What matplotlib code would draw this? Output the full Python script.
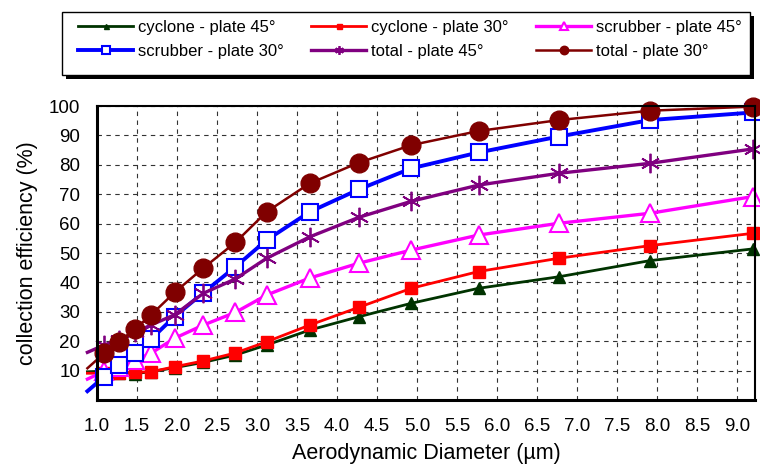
import matplotlib
matplotlib.use('Agg')
import matplotlib.pyplot as plt
from matplotlib.patches import Rectangle

plt.rcParams['font.family'] = ['Liberation Sans', 'DejaVu Sans']

# aerodynamic diameter (um); first value is the line lead-in before the first marker
diam = [0.88, 1.09, 1.28, 1.475, 1.675, 1.97, 2.33, 2.73, 3.12, 3.66, 4.27, 4.93, 5.77, 6.77, 7.91, 9.2]

cyclone_45 = [9.6, 9.8, 9.3, 9.0, 9.6, 11.0, 12.8, 15.3, 18.7, 23.8, 28.3, 32.9, 38.0, 41.9, 47.4, 51.4]
cyclone_30 = [9.1, 9.1, 9.2, 9.4, 9.6, 11.3, 13.3, 16.0, 19.8, 25.5, 31.5, 38.0, 43.7, 48.2, 52.5, 56.7]
scrubber_45 = [7.1, 9.8, 11.3, 13.5, 15.9, 21.0, 25.5, 29.8, 35.7, 41.5, 46.5, 51.0, 56.1, 60.1, 63.5, 69.2]
scrubber_30 = [3.0, 7.9, 11.9, 15.9, 20.7, 28.4, 36.5, 45.3, 54.4, 64.0, 71.6, 78.8, 84.2, 89.6, 95.2, 97.8]
total_45 = [16.2, 18.7, 20.5, 23.0, 25.5, 29.0, 36.3, 41.2, 48.2, 55.5, 62.1, 67.6, 73.1, 77.1, 80.5, 85.4]
total_30 = [10.8, 15.9, 19.8, 24.2, 28.9, 36.6, 44.9, 53.6, 64.0, 73.7, 80.7, 86.7, 91.5, 95.2, 98.4, 99.8]

xticks = [1.0, 1.5, 2.0, 2.5, 3.0, 3.5, 4.0, 4.5, 5.0, 5.5, 6.0, 6.5, 7.0, 7.5, 8.0, 8.5, 9.0]
yticks = [10, 20, 30, 40, 50, 60, 70, 80, 90, 100]

W, H = 760, 465
fig = plt.figure(figsize=(7.6, 4.65), dpi=100)
ax = fig.add_axes([97 / W, 1 - 400 / H, 658 / W, 294 / H])

series = [
    ('cyclone - plate 45°', cyclone_45, dict(color='#003300', lw=2.0, marker='^', ms=8, mfc='#003300', mec='#003300')),
    ('cyclone - plate 30°', cyclone_30, dict(color='#ff0000', lw=2.0, marker='s', ms=8, mfc='#ff0000', mec='#ff0000')),
    ('scrubber - plate 45°', scrubber_45, dict(color='#ff00ff', lw=2.4, marker='^', ms=13, mfc='white', mec='#ff00ff', mew=1.5)),
    ('scrubber - plate 30°', scrubber_30, dict(color='#0000ff', lw=2.8, marker='s', ms=11.5, mfc='white', mec='#0000ff', mew=1.5)),
    ('total - plate 45°', total_45, dict(color='#800080', lw=2.4, marker=(6, 2, 0), ms=14, mec='#800080', mew=1.3)),
    ('total - plate 30°', total_30, dict(color='#800000', lw=1.8, marker='o', ms=13.5, mfc='#800000', mec='#800000')),
]

handles = []
for name, vals, style in series:
    h, = ax.plot(diam, vals, label=name, markevery=list(range(1, len(diam))), clip_on=False, **style)
    handles.append(h)

ax.set_xlim(1.0, 1.0 + 658 / 80)
ax.set_ylim(0, 100)
ax.set_xticks(xticks)
ax.set_xticklabels([f'{t:.1f}' for t in xticks])
ax.set_yticks(yticks)
ax.tick_params(length=0, labelsize=13.5)
ax.tick_params(axis='x', pad=13)
ax.tick_params(axis='y', pad=12)
ax.grid(True, color='#333333', linestyle=(0, (4, 4)), lw=0.8)
for s in ax.spines.values():
    s.set_linewidth(1.5)
ax.spines['left'].set_linewidth(2.2)
ax.spines['bottom'].set_linewidth(2.2)

ax.set_xlabel('Aerodynamic Diameter (\u00b5m)', fontsize=15.5, labelpad=6)
ax.set_ylabel('collection efficiency (%)', fontsize=15.5, labelpad=8)

# legend box with a solid drop shadow, drawn by hand
fig.add_artist(Rectangle((66 / W, 1 - 79 / H), 688 / W, 63 / H, transform=fig.transFigure,
                         facecolor='black', edgecolor='none', zorder=3))
fig.add_artist(Rectangle((62 / W, 1 - 75 / H), 688 / W, 63 / H, transform=fig.transFigure,
                         facecolor='white', edgecolor='black', lw=1.0, zorder=4))

# legend fills column by column, so reorder to get the row-wise layout
order = [0, 3, 1, 4, 2, 5]
leg = fig.legend([handles[i] for i in order], [series[i][0] for i in order],
                 loc='upper left', bbox_to_anchor=(78 / W, 1 - 20 / H), ncol=3,
                 fontsize=12, frameon=False, handlelength=3.3, columnspacing=1.65, markerscale=0.45,
                 borderaxespad=0, borderpad=0, labelspacing=0.55, handletextpad=0.3)
leg.set_zorder(5)

fig.savefig('out.png', dpi=100)
